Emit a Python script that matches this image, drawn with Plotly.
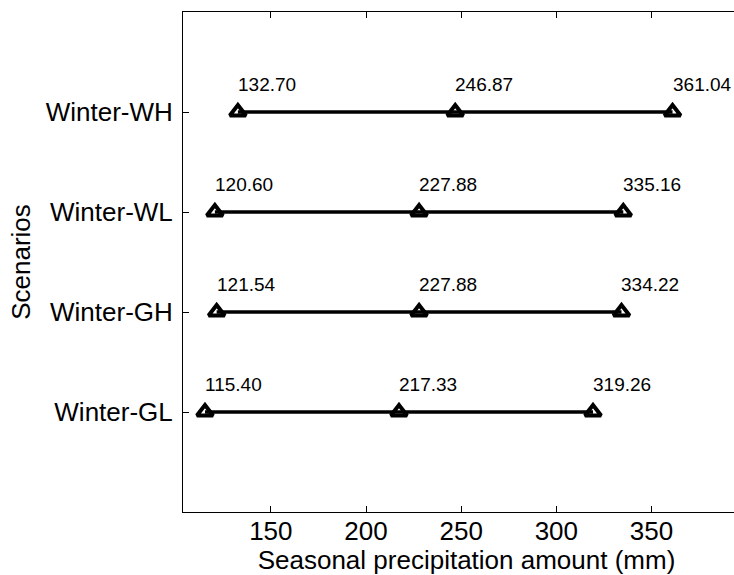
import plotly.graph_objects as go

scenarios = ["Winter-GL", "Winter-GH", "Winter-WL", "Winter-WH"]
low_vals = [115.40, 121.54, 120.60, 132.70]
mid_vals = [217.33, 227.88, 227.88, 246.87]
high_vals = [319.26, 334.22, 335.16, 361.04]
x_ticks = [150, 200, 250, 300, 350]

FONT = "Liberation Sans, Arial, Helvetica, sans-serif"

fig = go.Figure()
annotations = []
for i, name in enumerate(scenarios):
    ypos = i + 1
    xs = [low_vals[i], mid_vals[i], high_vals[i]]
    fig.add_trace(go.Scatter(
        x=xs, y=[ypos] * 3, mode="lines+markers",
        line=dict(color="black", width=3.5),
        marker=dict(symbol="triangle-up-open", size=14, color="black",
                    line=dict(width=4, color="black")),
        showlegend=False, hoverinfo="x+y",
    ))
    for v in xs:
        annotations.append(dict(
            x=v, y=ypos, xref="x", yref="y", text=f"{v:.2f}",
            showarrow=False, xanchor="left", yanchor="middle", yshift=28,
            xshift=-2, font=dict(family=FONT, size=19, color="black"),
        ))

# the reference figure is cropped on the right: the plot area runs past the window edge
FIG_W = 750
px_per_unit = 1.9035
x0 = 0.9 * min(low_vals)
x1 = x0 + (FIG_W - 183) / px_per_unit

fig.update_layout(
    width=FIG_W, height=575,
    margin=dict(l=183, r=0, t=12, b=63),
    paper_bgcolor="white", plot_bgcolor="white",
    font=dict(family=FONT, size=26, color="black"),
    annotations=annotations,
    xaxis=dict(
        range=[x0, x1], tickvals=x_ticks, ticks="inside", ticklen=6,
        tickcolor="black", showline=True, linecolor="black", linewidth=1,
        mirror="ticks", showgrid=False, zeroline=False,
        title=dict(text="Seasonal precipitation amount (mm)", standoff=3,
                   font=dict(size=26)),
        tickfont=dict(size=26), ticklabelstandoff=-4,
    ),
    yaxis=dict(
        range=[0, 5], tickvals=[1, 2, 3, 4], ticktext=scenarios,
        ticks="inside", ticklen=6, tickcolor="black",
        showline=True, linecolor="black", linewidth=1, mirror=False,
        showgrid=False, zeroline=False,
        title=dict(text="Scenarios", standoff=7, font=dict(size=26)),
        tickfont=dict(size=26), ticklabelstandoff=4,
    ),
)

fig.write_html(
    "out.html",
    config={"displayModeBar": False},
    post_script="document.body.style.margin='0';document.body.style.overflow='hidden';"
                "document.documentElement.style.overflow='hidden';",
)
